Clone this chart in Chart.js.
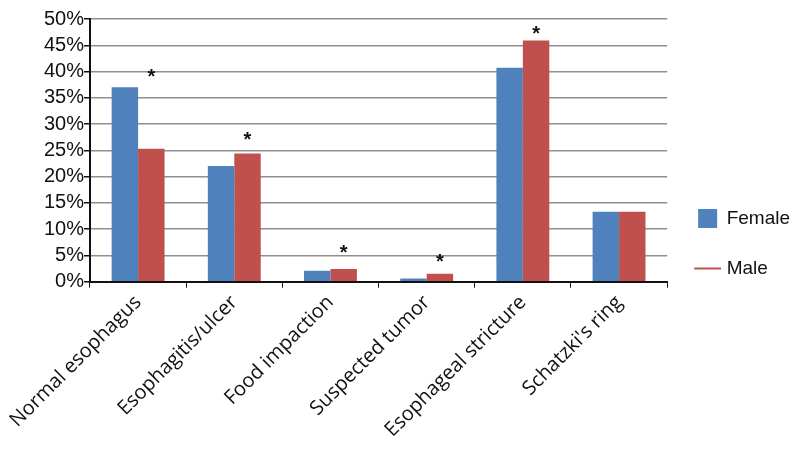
<!DOCTYPE html>
<html>
<head>
<meta charset="utf-8">
<script src="https://cdn.jsdelivr.net/npm/chart.js@4"></script>
<style>
  html, body { margin: 0; padding: 0; background: #fff; }
  #wrap { width: 800px; height: 462px; }
</style>
</head>
<body>
<div id="wrap"><canvas id="chart"></canvas></div>
<script>
const categories = ["Normal esophagus", "Esophagitis/ulcer", "Food impaction",
  "Suspected tumor", "Esophageal stricture", "Schatzki's ring"];
const female = [37.0, 22.0, 2.1, 0.6, 40.7, 13.3];
const male = [25.3, 24.4, 2.4, 1.5, 45.9, 13.3];
// height of the significance asterisk above each male bar (null = none)
const starLevels = [39.7, 27.6, 6.1, 4.4, 47.9, null];
const yTicks = [0, 5, 10, 15, 20, 25, 30, 35, 40, 45, 50];

const BLUE = '#4F81BD';
const RED = '#C0504D';

// draws the "*" markers over the male bars
const starPlugin = {
  id: 'stars',
  afterDatasetsDraw(chart) {
    const ctx = chart.ctx;
    const meta = chart.getDatasetMeta(1);
    const y = chart.scales.y;
    ctx.save();
    ctx.fillStyle = '#111';
    ctx.font = 'bold 20px "Liberation Sans"';
    ctx.textAlign = 'center';
    ctx.textBaseline = 'middle';
    starLevels.forEach((v, i) => {
      if (v == null) return;
      ctx.fillText('*', meta.data[i].x, y.getPixelForValue(v) + 4);
    });
    ctx.restore();
  }
};

new Chart(document.getElementById('chart'), {
  type: 'bar',
  data: {
    labels: categories,
    datasets: [
      { label: 'Female', data: female, backgroundColor: BLUE,
        categoryPercentage: 0.55, barPercentage: 1.0 },
      { label: 'Male', data: male, backgroundColor: RED,
        categoryPercentage: 0.55, barPercentage: 1.0 }
    ]
  },
  options: {
    responsive: true,
    maintainAspectRatio: false,
    animation: false,
    layout: { padding: { top: 19, left: 10, right: 0, bottom: 17 } },
    plugins: {
      tooltip: { enabled: false },
      legend: {
        position: 'right',
        title: { display: true, text: ' ', font: { size: 19 }, padding: 0 },
        labels: {
          font: { family: '"Liberation Sans"', size: 19 },
          color: '#111',
          usePointStyle: true,
          padding: 31,
          generateLabels(chart) {
            return chart.data.datasets.map((ds, i) => ({
              text: ds.label,
              fillStyle: ds.backgroundColor,
              strokeStyle: ds.backgroundColor,
              fontColor: '#111',
              lineWidth: i === 0 ? 0 : 2,
              pointStyle: i === 0 ? 'rect' : 'line',
              datasetIndex: i
            }));
          }
        }
      }
    },
    scales: {
      x: {
        grid: { drawOnChartArea: false, color: '#111', tickLength: 6, lineWidth: 1 },
        border: { color: '#111', width: 2 },
        ticks: {
          font: { family: '"Open Sans"', size: 20 },
          color: '#111',
          minRotation: 45,
          maxRotation: 45
        }
      },
      y: {
        min: 0,
        max: 50,
        afterBuildTicks(axis) { axis.ticks = yTicks.map(v => ({ value: v })); },
        afterFit(axis) { axis.width = 80; },
        grid: { color: '#8f8f8f', lineWidth: 1.5, tickLength: 6,
          tickColor: '#111' },
        border: { color: '#111', width: 2 },
        ticks: {
          font: { family: '"Liberation Sans"', size: 20 },
          color: '#111',
          padding: 0,
          autoSkip: false,
          callback: v => v + '%'
        }
      }
    }
  },
  plugins: [starPlugin]
});
</script>
</body>
</html>
